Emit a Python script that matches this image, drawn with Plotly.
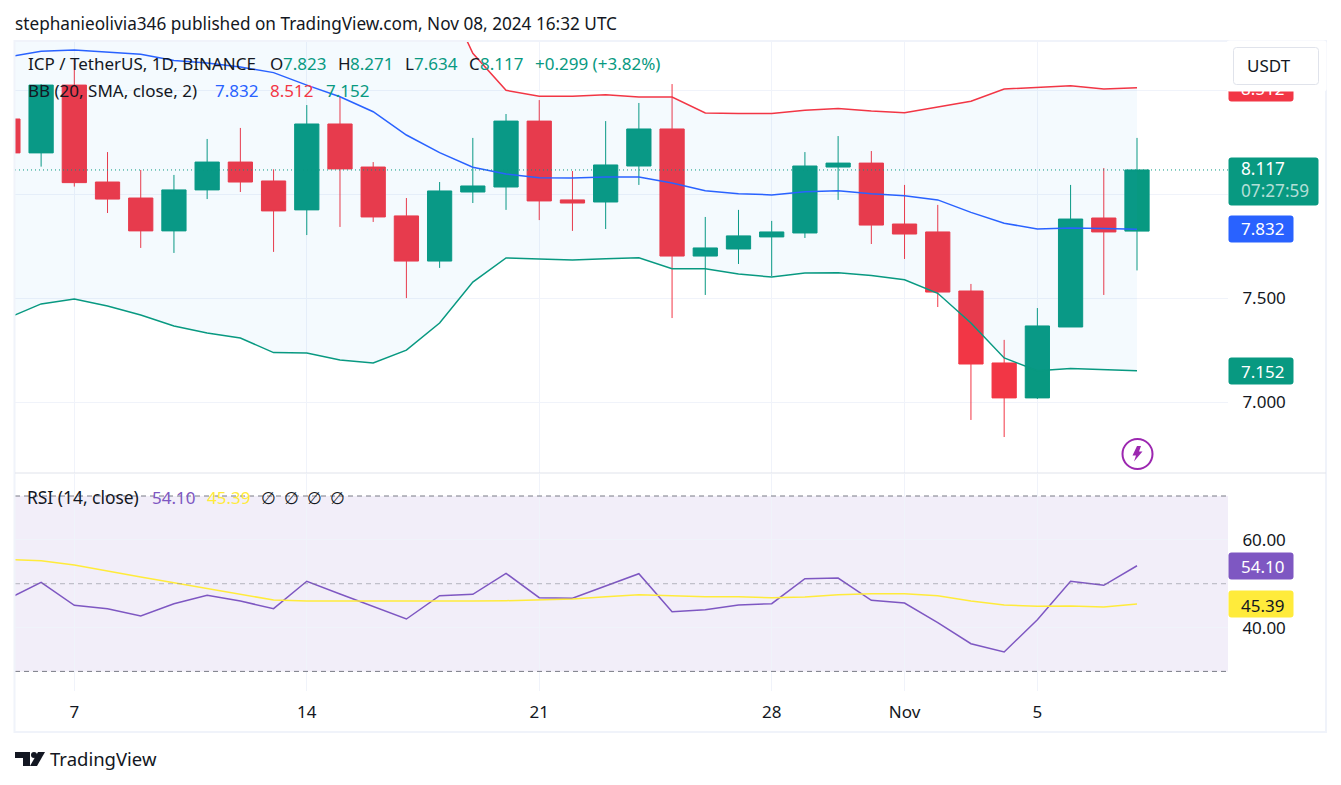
import pandas as pd
import plotly.graph_objects as go

# Daily ICP/USDT candles, 5 Oct - 8 Nov 2024
dates = pd.date_range('2024-10-05', periods=35, freq='D')

opens = [8.362, 8.199, 8.525, 8.059, 7.982, 7.824, 8.021, 8.155, 8.064, 7.925, 8.338, 8.131,
         7.896, 7.679, 8.011, 8.035, 8.352, 7.973, 7.963, 8.136, 8.314, 7.703, 7.737, 7.795,
         7.814, 8.131, 8.150, 7.857, 7.819, 7.535, 7.189, 7.021, 7.362, 7.886, 7.823]
highs = [8.400, 8.530, 8.646, 8.203, 8.117, 8.093, 8.266, 8.319, 8.120, 8.429, 8.469, 8.155,
         7.982, 8.059, 8.271, 8.386, 8.453, 8.112, 8.352, 8.439, 8.530, 7.891, 7.925, 7.872,
         8.203, 8.280, 8.208, 8.045, 7.949, 7.569, 7.300, 7.453, 8.045, 8.126, 8.271]
lows = [8.170, 8.133, 8.037, 7.910, 7.742, 7.718, 7.977, 8.011, 7.723, 7.804, 7.843, 7.867,
        7.501, 7.646, 7.958, 7.925, 7.876, 7.824, 7.833, 8.045, 7.405, 7.516, 7.665, 7.607,
        7.790, 7.973, 7.761, 7.689, 7.458, 6.915, 6.833, 7.016, 7.362, 7.516, 7.634]
closes = [8.199, 8.525, 8.056, 7.977, 7.824, 8.021, 8.155, 8.059, 7.920, 8.338, 8.122, 7.891,
          7.679, 8.016, 8.040, 8.352, 7.968, 7.958, 8.141, 8.314, 7.703, 7.742, 7.800, 7.819,
          8.136, 8.150, 7.852, 7.809, 7.530, 7.184, 7.021, 7.367, 7.881, 7.819, 8.117]

# Bollinger bands (the upper band leaves the chart before 19 Oct, those are estimates)
bb_basis = [8.660, 8.688, 8.694, 8.684, 8.673, 8.643, 8.631, 8.612, 8.585, 8.525, 8.469, 8.397,
            8.285, 8.200, 8.130, 8.098, 8.080, 8.078, 8.083, 8.083, 8.054, 8.017, 8.003, 7.997,
            8.012, 8.017, 8.003, 7.993, 7.973, 7.913, 7.861, 7.833, 7.838, 7.835, 7.832]
bb_upper = [9.915, 9.903, 9.891, 9.905, 9.926, 9.919, 9.929, 9.915, 9.931, 9.813, 9.735, 9.605,
            9.319, 9.019, 8.678, 8.500, 8.471, 8.471, 8.479, 8.468, 8.468, 8.391, 8.389, 8.389,
            8.404, 8.413, 8.400, 8.392, 8.420, 8.447, 8.506, 8.514, 8.522, 8.506, 8.512]
bb_lower = [7.405, 7.473, 7.497, 7.463, 7.420, 7.367, 7.333, 7.309, 7.239, 7.237, 7.203, 7.189,
            7.251, 7.381, 7.578, 7.694, 7.689, 7.684, 7.690, 7.695, 7.642, 7.642, 7.617, 7.602,
            7.622, 7.623, 7.609, 7.589, 7.524, 7.381, 7.213, 7.152, 7.163, 7.159, 7.152]

rsi = [46.51, 50.32, 45.07, 44.30, 42.63, 45.44, 47.35, 46.05, 44.30, 50.55, 47.65, 44.75,
       41.95, 47.26, 47.58, 52.37, 46.81, 46.67, 49.48, 52.28, 43.61, 44.07, 45.14, 45.44,
       51.14, 51.30, 46.21, 45.60, 41.11, 36.32, 34.42, 41.79, 50.55, 49.64, 54.10]
rsi_ma = [55.52, 55.25, 54.26, 52.83, 51.53, 50.23, 48.86, 47.65, 46.28, 46.05, 46.05, 46.05,
          45.99, 45.90, 46.05, 46.12, 46.35, 46.51, 47.04, 47.49, 47.26, 47.04, 47.04, 46.81,
          46.97, 47.49, 47.72, 47.72, 47.26, 46.05, 45.14, 44.85, 44.91, 44.69, 45.39]

x_ticks = ['2024-10-07', '2024-10-14', '2024-10-21', '2024-10-28', '2024-11-01', '2024-11-05']
x_labels = ['7', '14', '21', '28', 'Nov', '5']
price_ticks = [7.0, 7.5, 8.0, 8.5]
price_labels = ['7.000', '7.500', '', '']  # the other two sit under the price plates
rsi_ticks = [40, 60]
rsi_labels = ['40.00', '60.00']

GREEN = '#089981'
RED = '#f23645'
BLUE = '#2962ff'
PURPLE = '#7e57c2'
YELLOW = '#ffeb3b'
TEXT = '#131722'
GRID = '#f0f3fa'
FONT = 'Noto Sans'
SIZE = 17


# layout helpers, screen pixels to paper coordinates
def xp(px):
    return (px - 15) / 1213


def yp(py):
    return (691 - py) / 650


def path(points):
    return 'M' + ' L'.join(f'{xp(a):.5f},{yp(b):.5f}' for a, b in points) + ' Z'


fig = go.Figure()

fig.add_trace(go.Scatter(x=dates, y=bb_lower, mode='lines', line=dict(color=GREEN, width=1.5)))
fig.add_trace(go.Scatter(x=dates, y=bb_upper, mode='lines', line=dict(color=RED, width=1.5),
                         fill='tonexty', fillcolor='rgba(33,150,243,0.05)'))
fig.add_trace(go.Scatter(x=dates, y=bb_basis, mode='lines', line=dict(color=BLUE, width=1.5)))

fig.add_trace(go.Candlestick(
    x=dates, open=opens, high=highs, low=lows, close=closes,
    increasing=dict(line=dict(color=GREEN, width=1), fillcolor=GREEN),
    decreasing=dict(line=dict(color=RED, width=1), fillcolor=RED),
))

fig.add_trace(go.Scatter(x=dates, y=rsi, yaxis='y2', mode='lines', line=dict(color=PURPLE, width=1.5)))
fig.add_trace(go.Scatter(x=dates, y=rsi_ma, yaxis='y2', mode='lines', line=dict(color=YELLOW, width=1.5)))

shapes = [
    # RSI band and its levels
    dict(type='rect', xref='paper', yref='y2', x0=0, x1=1, y0=30, y1=70, layer='below',
         fillcolor='rgba(126,87,194,0.1)', line_width=0),
    dict(type='line', xref='paper', yref='y2', x0=0, x1=1, y0=70, y1=70,
         line=dict(color='#787b86', width=1, dash='5px,4px')),
    dict(type='line', xref='paper', yref='y2', x0=0, x1=1, y0=50, y1=50,
         line=dict(color='rgba(120,123,134,0.5)', width=1, dash='5px,4px')),
    dict(type='line', xref='paper', yref='y2', x0=0, x1=1, y0=30, y1=30,
         line=dict(color='#787b86', width=1, dash='5px,4px')),
    # last price line
    dict(type='line', xref='paper', yref='y', x0=0, x1=1, y0=closes[-1], y1=closes[-1],
         line=dict(color=GREEN, width=1, dash='1px,3px')),
    # frame and pane separator
    dict(type='rect', xref='paper', yref='paper', x0=xp(14.5), x1=xp(1326), y0=yp(732), y1=yp(41),
         line=dict(color=GRID, width=2)),
    dict(type='line', xref='paper', yref='paper', x0=0, x1=xp(1326), y0=yp(473), y1=yp(473),
         line=dict(color='#e0e3eb', width=1)),
    # lightning badge
    dict(type='circle', xref='paper', yref='paper', x0=xp(1122.5), x1=xp(1152.5), y0=yp(469), y1=yp(439),
         line=dict(color='#9c27b0', width=2)),
    dict(type='path', xref='paper', yref='paper', line_width=0, fillcolor='#9c27b0',
         path=path([(1137, 446), (1141, 446), (1139, 451.5), (1142.5, 451.5),
                    (1134, 461.5), (1136, 455.5), (1132.5, 455.5)])),
    # TradingView logo
    dict(type='path', xref='paper', yref='paper', line_width=0, fillcolor=TEXT,
         path=path([(15, 752), (30, 752), (30, 766), (23, 766), (23, 758), (15, 758)])),
    dict(type='circle', xref='paper', yref='paper', line_width=0, fillcolor=TEXT,
         x0=xp(31), x1=xp(37), y0=yp(758), y1=yp(752)),
    dict(type='path', xref='paper', yref='paper', line_width=0, fillcolor=TEXT,
         path=path([(38, 752), (45, 752), (37, 766), (30, 766)])),
]


def label(text, px, py, color=TEXT, size=SIZE, anchor='left'):
    # annotations sit 2px right of their anchor
    shift = 2 if anchor == 'left' else 0
    return dict(text=text, xref='paper', yref='paper', x=xp(px - shift), y=yp(py), xanchor=anchor,
                yanchor='middle', align='left', showarrow=False,
                font=dict(family=FONT, size=size, color=color))


def box(y_value, px0, px1, height, color, yref='y'):
    # coloured plate on the price scale
    return dict(text='&nbsp;', xref='paper', yref=yref, x=xp(px0 - 0.5), y=y_value, xanchor='left',
                yanchor='middle', showarrow=False, width=px1 - px0 - 1, height=height - 1, bgcolor=color,
                borderpad=0, font=dict(size=1))


annotations = [
    label('stephanieolivia346 published on TradingView.com, Nov 08, 2024 16:32 UTC', 15, 23, size=17.2),
    label('ICP / TetherUS, 1D, BINANCE', 28, 64),
    label('O', 270, 64), label(f'{opens[-1]:.3f}', 283, 64, GREEN),
    label('H', 338, 64), label(f'{highs[-1]:.3f}', 350, 64, GREEN),
    label('L', 405, 64), label(f'{lows[-1]:.3f}', 414, 64, GREEN),
    label('C', 469, 64), label(f'{closes[-1]:.3f}', 480, 64, GREEN),
    label('+0.299 (+3.82%)', 535, 64, GREEN),
    label('BB (20, SMA, close, 2)', 28, 90),
    label(f'{bb_basis[-1]:.3f}', 215, 90, BLUE),
    label(f'{bb_upper[-1]:.3f}', 270, 90, RED),
    label(f'{bb_lower[-1]:.3f}', 326, 90, GREEN),
    label('RSI (14, close)', 27, 497, size=17.4),
    label(f'{rsi[-1]:.2f}', 152, 497, PURPLE),
    label(f'{rsi_ma[-1]:.2f}', 207, 497, YELLOW),
    label('∅', 268, 497, anchor='center'), label('∅', 291, 497, anchor='center'),
    label('∅', 314, 497, anchor='center'), label('∅', 337, 497, anchor='center'),
    # scale plates, the red one runs under the currency button
    box(bb_upper[-1], 1228, 1293, 27, RED),
    label(f'{bb_upper[-1]:.3f}', 1241, 88, 'white'),
    dict(text='&nbsp;', xref='paper', yref='paper', x=xp(1226), y=yp(66), xanchor='left', yanchor='middle',
         showarrow=False, width=99, height=50, bgcolor='white', borderpad=0, font=dict(size=1)),
    dict(text='&nbsp;', xref='paper', yref='paper', x=xp(1233), y=yp(47), xanchor='left', yanchor='top',
         showarrow=False, width=84, height=36, bgcolor='white', bordercolor='#e0e3eb', borderwidth=1,
         borderpad=0, font=dict(size=1)),
    label('USDT', 1247, 66),
    box(closes[-1] - 0.055, 1228, 1318, 48, GREEN),
    label(f'{closes[-1]:.3f}<br><span style="color:rgba(255,255,255,0.7)">07:27:59</span>',
          1241, 180, 'white', size=17.2),
    box(bb_basis[-1], 1228, 1293, 27, BLUE),
    label(f'{bb_basis[-1]:.3f}', 1241, 229, 'white'),
    box(bb_lower[-1], 1228, 1293, 27, GREEN),
    label(f'{bb_lower[-1]:.3f}', 1241, 371, 'white'),
    box(rsi[-1], 1228, 1293, 27, PURPLE, 'y2'),
    label(f'{rsi[-1]:.2f}', 1241, 566, 'white'),
    box(rsi_ma[-1], 1228, 1293, 27, YELLOW, 'y2'),
    label(f'{rsi_ma[-1]:.2f}', 1241, 605),
    label('TradingView', 50, 758.5, size=18.5),
]

fig.update_layout(
    width=1341,
    height=785,
    autosize=False,
    margin=dict(l=15, r=113, t=41, b=94),
    paper_bgcolor='white',
    plot_bgcolor='white',
    showlegend=False,
    boxgap=0.27,
    boxgroupgap=0,
    font=dict(family=FONT, size=SIZE, color=TEXT),
    shapes=shapes,
    annotations=annotations,
    xaxis=dict(
        type='date',
        anchor='y2',
        range=['2024-10-05 05:08', '2024-11-10 17:46'],
        rangeslider=dict(visible=False),
        tickvals=x_ticks,
        ticktext=x_labels,
        tickangle=0,
        ticks='outside',
        ticklen=6,
        tickcolor='rgba(0,0,0,0)',
        showgrid=True,
        gridcolor=GRID,
        zeroline=False,
        showline=False,
    ),
    yaxis=dict(
        domain=[yp(473), 1],
        range=[6.660, 8.737],
        side='right',
        tickvals=price_ticks,
        ticktext=price_labels,
        ticks='outside',
        ticklen=10,
        tickcolor='rgba(0,0,0,0)',
        gridcolor=GRID,
        zeroline=False,
    ),
    yaxis2=dict(
        domain=[0, yp(474)],
        range=[25.53, 75.02],
        side='right',
        tickvals=rsi_ticks,
        ticktext=rsi_labels,
        ticks='outside',
        ticklen=10,
        tickcolor='rgba(0,0,0,0)',
        gridcolor=GRID,
        zeroline=False,
    ),
)

# no page margin, rounded corners on the scale plates
fig.write_html(
    'out.html',
    config={'displayModeBar': False},
    post_script="document.body.style.margin='0';"
                "document.querySelectorAll('.annotation rect.bg').forEach(r=>r.setAttribute('rx','3'));",
)
